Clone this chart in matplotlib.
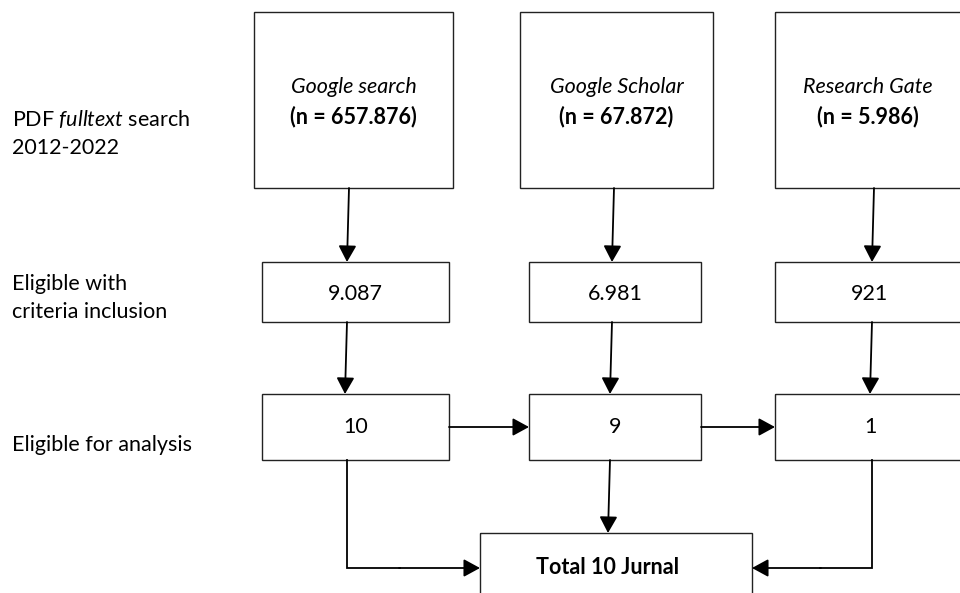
import matplotlib.pyplot as plt
from matplotlib.patches import Rectangle

# Flow content
stage_labels = [
    "PDF $\\it{fulltext}$ search\n2012-2022",
    "Eligible with\ncriteria inclusion",
    "Eligible for analysis",
]
sources = ["Google search", "Google Scholar", "Research Gate"]
found = ["657.876", "67.872", "5.986"]
eligible = ["9.087", "6.981", "921"]
analysed = ["10", "9", "1"]
total_label = "Total 10 Jurnal"

plt.rcParams["font.family"] = ["Lato", "DejaVu Sans"]
plt.rcParams["mathtext.fontset"] = "custom"
plt.rcParams["mathtext.it"] = "Lato:italic"
plt.rcParams["mathtext.rm"] = "Lato"

fig = plt.figure(figsize=(9.6, 5.93), dpi=100)
ax = fig.add_axes([0, 0, 1, 1])
ax.set_xlim(0, 960)
ax.set_ylim(593, 0)
ax.axis("off")

FS = 15.5
LC = "black"

# column layout (pixel coords): top box, middle boxes
top_boxes = [(254, 453), (520, 713), (775, 966)]
mid_boxes = [(262, 449), (529, 701), (775, 966)]
top_y = (12, 188)
row2_y = (262, 322)
row3_y = (394, 460)
bottom_box = (480, 752, 533, 600)


def box(x0, x1, y0, y1):
    ax.add_patch(Rectangle((x0, y0), x1 - x0, y1 - y0, fill=False,
                           edgecolor="#222222", lw=1.0))


def arrow(x0, y0, x1, y1):
    ax.annotate("", xy=(x1, y1), xytext=(x0, y0),
                arrowprops=dict(arrowstyle="-|>,head_length=0.55,head_width=0.3",
                                mutation_scale=18, color=LC, lw=1.3,
                                shrinkA=0, shrinkB=0))


# stage labels on the left
ax.text(12, 133, stage_labels[0], fontsize=FS, va="center", ha="left", linespacing=1.45)
ax.text(12, 298, stage_labels[1], fontsize=FS, va="center", ha="left", linespacing=1.45)
ax.text(12, 445, stage_labels[2], fontsize=FS, va="center", ha="left")

top_cx = [(a + b) / 2 for a, b in top_boxes]
top_cx[2] = 868
mid_cx = [(a + b) / 2 for a, b in mid_boxes]
mid_cx[2] = 870
line_x = [348, 613, 873]

for i in range(3):
    x0, x1 = top_boxes[i]
    box(x0, x1, *top_y)
    ax.text(top_cx[i], 87, sources[i], fontsize=FS, style="italic",
            ha="center", va="center")
    ax.text(top_cx[i], 117, "(n = " + found[i] + ")", fontsize=FS,
            weight="bold", ha="center", va="center")

    m0, m1 = mid_boxes[i]
    box(m0, m1, *row2_y)
    ax.text(mid_cx[i], 294, eligible[i], fontsize=FS, ha="center", va="center")
    box(m0, m1, *row3_y)
    ax.text(mid_cx[i], 427, analysed[i], fontsize=FS, ha="center", va="center")

    # vertical arrows between rows
    lx = line_x[i]
    arrow(lx + 1, top_y[1], lx - 1, row2_y[0])
    arrow(lx - 1, row2_y[1], lx - 3, row3_y[0])

# horizontal arrows in row 3
arrow(mid_boxes[0][1], 427, mid_boxes[1][0], 427)
arrow(mid_boxes[1][1], 427, mid_boxes[2][0], 427)

# final box
bx0, bx1, by0, by1 = bottom_box
box(bx0, bx1, by0, by1)
ax.text((bx0 + bx1) / 2 - 8, 567, total_label, fontsize=FS, weight="bold",
        ha="center", va="center")

arrow(610, row3_y[1], 608, by0)
ax.plot([347, 347, 400], [row3_y[1], 568, 568], color=LC, lw=1.3,
        solid_joinstyle="miter")
arrow(399, 568, bx0, 568)
ax.plot([872, 872, 820], [row3_y[1], 568, 568], color=LC, lw=1.3,
        solid_joinstyle="miter")
arrow(821, 568, bx1, 568)

fig.savefig("out.png", dpi=100, facecolor="white")
